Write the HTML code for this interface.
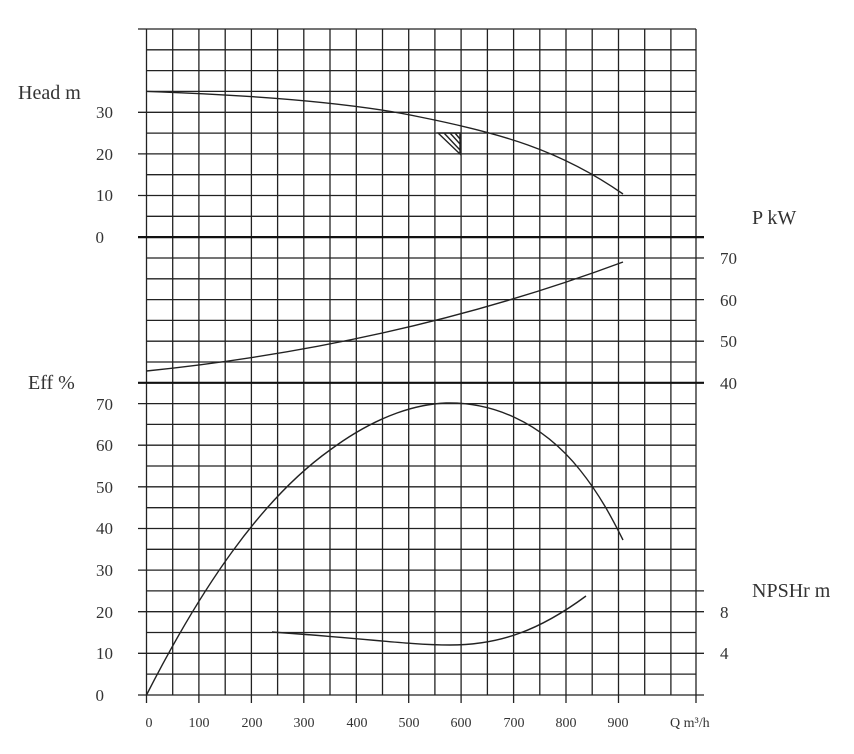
<!DOCTYPE html>
<html><head><meta charset="utf-8"><style>
html,body{margin:0;padding:0;background:#fff;}
svg{display:block;font-family:"Liberation Serif",serif;}
</style></head><body>
<svg width="854" height="754" viewBox="0 0 854 754" xmlns="http://www.w3.org/2000/svg">
<g stroke="#222" stroke-width="1.3" fill="none">
<path d="M146 29H696M146 49.8H696M146 70.6H696M146 91.4H696M146 112.3H696M146 133.1H696M146 153.9H696M146 174.7H696M146 195.5H696M146 216.3H696M146 258H696M146 278.8H696M146 299.6H696M146 320.4H696M146 341.2H696M146 362H696M146 403.6H696M146 424.4H696M146 445.2H696M146 466H696M146 486.8H696M146 507.7H696M146 528.5H696M146 549.3H696M146 570.1H696M146 590.9H696M146 611.7H696M146 632.5H696M146 653.3H696M146 674.1H696M146 695H696"/>
<path d="M138 29H146M138 112.3H146M138 153.9H146M138 195.5H146M138 237.1H146M138 403.6H146M138 445.2H146M138 486.8H146M138 528.5H146M138 570.1H146M138 611.7H146M138 653.3H146M138 695H146"/>
<path d="M696 237.1H704M696 258H704M696 299.6H704M696 341.2H704M696 382.8H704M696 590.9H704M696 611.7H704M696 653.3H704M696 695H704"/>
<path d="M146.5 29V695M172.7 29V695M198.9 29V695M225.2 29V695M251.4 29V695M277.6 29V695M303.8 29V695M330 29V695M356.3 29V695M382.5 29V695M408.7 29V695M434.9 29V695M461.1 29V695M487.4 29V695M513.6 29V695M539.8 29V695M566 29V695M592.2 29V695M618.5 29V695M644.7 29V695M670.9 29V695M696 29V695"/>
<path d="M146.5 695V703M198.9 695V703M251.4 695V703M303.8 695V703M356.3 695V703M408.7 695V703M461.1 695V703M513.6 695V703M566 695V703M618.5 695V703M696 695V703"/>
</g>
<path d="M138 237.1H704M138 382.8H704" stroke="#111" stroke-width="2.2"/>
<g stroke="#222" stroke-width="1.4" fill="none">
<path d="M146.5 91.4 C250 95 350 102 420 117 C500 133 560 150 623 194"/>
<path d="M438 133L460 133L460 154Z M444 133L460 150 M450 133L460 144 M455 133L460 139"/>
<path d="M146.5 371 Q400 345 623 262"/>
<path d="M146.5 695 C200 590 260 500 330 450 C380 413 420 404 446 403 C490 402 540 420 580 470 C600 495 612 518 623 540"/>
<path d="M272 632 C360 638 410 645 450 645 C500 645 540 630 586 596"/>
</g>
<g fill="#333" font-size="17">
<text x="18" y="99" font-size="20">Head m</text>
<text x="28" y="389" font-size="20">Eff %</text>
<text x="752" y="224" font-size="20">P kW</text>
<text x="752" y="597" font-size="20">NPSHr m</text>
<g text-anchor="end">
<text x="113" y="118">30</text><text x="113" y="160">20</text><text x="113" y="201">10</text><text x="104" y="243">0</text>
<text x="113" y="410">70</text><text x="113" y="451">60</text><text x="113" y="493">50</text><text x="113" y="534">40</text>
<text x="113" y="576">30</text><text x="113" y="618">20</text><text x="113" y="659">10</text><text x="104" y="701">0</text>
</g>
<text x="720" y="264">70</text><text x="720" y="306">60</text><text x="720" y="347">50</text><text x="720" y="389">40</text>
<text x="720" y="618">8</text><text x="720" y="659">4</text>
<g font-size="14" text-anchor="middle">
<text x="149" y="727">0</text><text x="199" y="727">100</text><text x="252" y="727">200</text><text x="304" y="727">300</text><text x="357" y="727">400</text><text x="409" y="727">500</text><text x="461" y="727">600</text><text x="514" y="727">700</text><text x="566" y="727">800</text><text x="618" y="727">900</text>
</g>
<text x="670" y="727" font-size="14">Q m³/h</text>
</g>
</svg>
</body></html>
